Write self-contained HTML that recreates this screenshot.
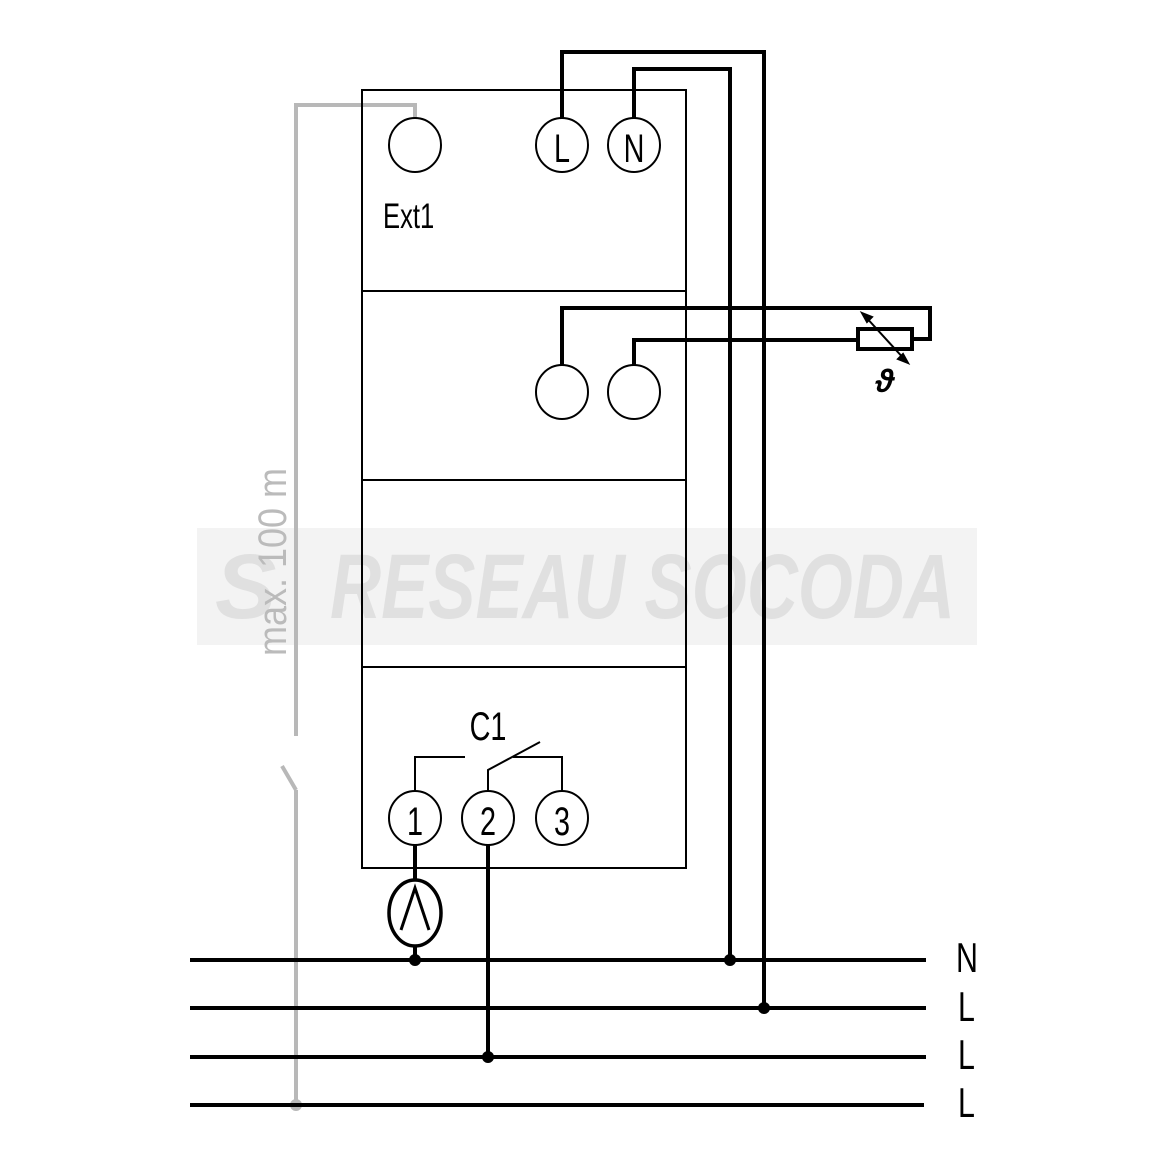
<!DOCTYPE html>
<html><head><meta charset="utf-8"><style>
html,body{margin:0;padding:0;background:#fff;}
svg{display:block;}
text{font-family:"Liberation Sans",sans-serif;}
</style></head><body>
<svg width="1172" height="1172" viewBox="0 0 1172 1172" xmlns="http://www.w3.org/2000/svg">
<rect x="197" y="528" width="780" height="117" fill="#f3f3f3"/>
<text x="215" y="618" font-size="92" font-weight="bold" font-style="italic" fill="#e0e0e0">S</text>
<text x="330" y="618" font-size="92" font-weight="bold" font-style="italic" fill="#e0e0e0" textLength="625" lengthAdjust="spacingAndGlyphs">RESEAU SOCODA</text>
<text transform="translate(286,562) rotate(-90) scale(0.9,1)" text-anchor="middle" font-size="40" fill="#bbb">max. 100 m</text>
<g stroke="#b8b8b8" stroke-width="4" fill="none">
<polyline points="415,119 415,105 296,105 296,736"/>
<line x1="282" y1="766" x2="296" y2="790"/>
<line x1="296" y1="790" x2="296" y2="1105"/>
</g>
<circle cx="296" cy="1105" r="6" fill="#b8b8b8"/>
<g stroke="#000" stroke-width="2" fill="none">
<rect x="362" y="90" width="324" height="778"/>
<line x1="362" y1="291" x2="686" y2="291"/>
<line x1="362" y1="480" x2="686" y2="480"/>
<line x1="362" y1="667" x2="686" y2="667"/>
<ellipse cx="415" cy="145" rx="26" ry="27"/>
<ellipse cx="562" cy="145" rx="26" ry="27"/>
<ellipse cx="634" cy="145" rx="26" ry="27"/>
<ellipse cx="562" cy="392" rx="26" ry="27"/>
<ellipse cx="634" cy="392" rx="26" ry="27"/>
<ellipse cx="415" cy="818" rx="26" ry="27"/>
<ellipse cx="488" cy="818" rx="26" ry="27"/>
<ellipse cx="562" cy="818" rx="26" ry="27"/>
<polyline points="415,791 415,757 465,757"/>
<polyline points="488,791 488,770 540,742"/>
<polyline points="513,757 562,757 562,791"/>
</g>
<g font-size="36" text-anchor="middle" fill="#000">
<text transform="translate(562,162) scale(0.8,1.1)">L</text>
<text transform="translate(634,162) scale(0.8,1.1)">N</text>
<text transform="translate(415,835) scale(0.8,1.1)">1</text>
<text transform="translate(488,835) scale(0.8,1.1)">2</text>
<text transform="translate(562,835) scale(0.8,1.1)">3</text>
<text transform="translate(488,740) scale(0.8,1.1)">C1</text>
</g>
<text transform="translate(383,228) scale(0.8,1.1)" font-size="32">Ext1</text>
<g stroke="#000" stroke-width="4" fill="none">
<polyline points="562,118 562,52 764,52 764,1008"/>
<polyline points="634,118 634,69 730,69 730,960"/>
<polyline points="562,365 562,308 930,308 930,339 912,339"/>
<polyline points="634,365 634,340 858,340"/>
<rect x="858" y="329" width="54" height="20"/>
<line x1="415" y1="845" x2="415" y2="879"/>
<line x1="415" y1="947" x2="415" y2="960"/>
<line x1="488" y1="845" x2="488" y2="1057"/>
<ellipse cx="415" cy="913" rx="26" ry="33" stroke-width="3.5"/>
<polyline points="401,930 415,888 429,930" stroke-width="3"/>
<line x1="190" y1="960" x2="926" y2="960"/>
<line x1="190" y1="1008" x2="926" y2="1008"/>
<line x1="190" y1="1057" x2="926" y2="1057"/>
<line x1="190" y1="1105" x2="924" y2="1105"/>
</g>
<g stroke="#000" stroke-width="2" fill="#000">
<line x1="864" y1="315" x2="906" y2="361"/>
<polygon points="862,313 872,317 867,322"/>
<polygon points="908,363 898,359 903,354"/>
</g>
<text x="885" y="392" font-size="32" font-weight="bold" font-style="italic" text-anchor="middle">ϑ</text>
<g fill="#000">
<circle cx="415" cy="960" r="6"/>
<circle cx="730" cy="960" r="6"/>
<circle cx="764" cy="1008" r="6"/>
<circle cx="488" cy="1057" r="6"/>
</g>
<g font-size="38" fill="#000">
<text transform="translate(956,972) scale(0.8,1.1)">N</text>
<text transform="translate(958,1021) scale(0.8,1.1)">L</text>
<text transform="translate(958,1069) scale(0.8,1.1)">L</text>
<text transform="translate(958,1117) scale(0.8,1.1)">L</text>
</g>
</svg>
</body></html>
